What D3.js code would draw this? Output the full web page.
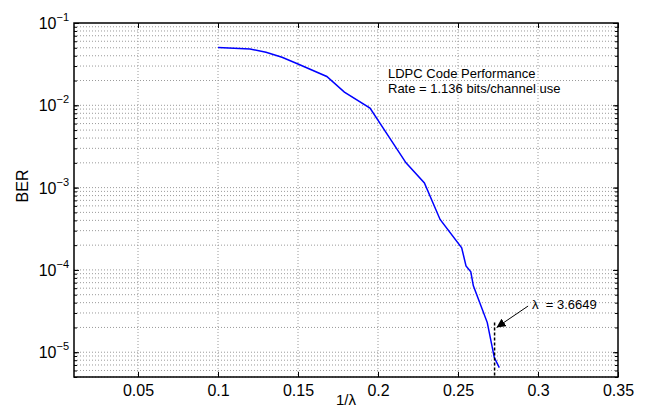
<!DOCTYPE html>
<html>
<head>
<meta charset="utf-8">
<script src="https://cdn.jsdelivr.net/npm/d3@7"></script>
<style>
  body { margin: 0; background: #fff; }
  svg { font-family: "Liberation Sans", Arial, Helvetica, sans-serif; }
  .grid line { stroke: #9a9a9a; stroke-width: 1; stroke-dasharray: 1,2; }
</style>
</head>
<body>
<div id="chart"></div>
<script>
// LDPC code performance - BER vs 1/lambda

// Curve values
var invLambda = [0.100, 0.120, 0.130, 0.140, 0.150, 0.168, 0.179, 0.195, 0.2175, 0.229,
                 0.2388, 0.2523, 0.2550, 0.2580, 0.2596, 0.2683, 0.2727, 0.2758];
var berValues = [0.0505, 0.0484, 0.0441, 0.0384, 0.0318, 0.0224, 0.0145, 0.00925, 0.0020, 0.00114,
                 4.1e-4, 1.86e-4, 1.12e-4, 9.5e-5, 6.4e-5, 2.29e-5, 8.6e-6, 6.5e-6];

// Axis ticks
var xTicks = [0.05, 0.1, 0.15, 0.2, 0.25, 0.3, 0.35];
var xTickLabels = ["0.05", "0.1", "0.15", "0.2", "0.25", "0.3", "0.35"];
var yDecades = [-5, -4, -3, -2, -1];

// Annotation values
var lambdaValue = 3.6649;
var titleLines = ["LDPC Code Performance", "Rate = 1.136 bits/channel use"];

var svgWidth = 646;
var svgHeight = 417;
var margin = { top: 23, right: 28, bottom: 40, left: 74 };
var width = svgWidth - margin.left - margin.right;
var height = svgHeight - margin.top - margin.bottom;

var svg = d3.select("#chart")
    .append("svg")
    .attr("width", svgWidth)
    .attr("height", svgHeight);

var chartGroup = svg.append("g")
    .attr("transform", `translate(${margin.left}, ${margin.top})`);

// Scales
var xScale = d3.scaleLinear()
    .domain([0.01, 0.35])
    .range([0, width]);

var yScale = d3.scaleLog()
    .domain([5e-6, 0.1])
    .range([height, 0]);

// all log ticks (1..9 per decade) inside the domain
var yMinor = [];
for (var k = -6; k <= -1; k++) {
    for (var m = 1; m <= 9; m++) {
        var v = m * Math.pow(10, k);
        if (v >= 5e-6 * 0.999 && v <= 0.1 * 1.001) yMinor.push(v);
    }
}
var yMajor = yDecades.map(d => Math.pow(10, d));

// Grid lines
var grid = chartGroup.append("g").attr("class", "grid");
grid.selectAll(".gx")
    .data(xTicks.filter(d => d < 0.35))
    .enter()
    .append("line")
    .attr("x1", d => xScale(d))
    .attr("x2", d => xScale(d))
    .attr("y1", 0)
    .attr("y2", height);
grid.selectAll(".gy")
    .data(yMinor.filter(d => d < 0.1 * 0.999))
    .enter()
    .append("line")
    .attr("x1", 0)
    .attr("x2", width)
    .attr("y1", d => yScale(d))
    .attr("y2", d => yScale(d));

// Axes (ticks pointing inward)
var bottomAxis = d3.axisBottom(xScale)
    .tickValues(xTicks)
    .tickFormat((d, i) => xTickLabels[i])
    .tickSizeInner(-5)
    .tickSizeOuter(0)
    .tickPadding(8);

var topAxis = d3.axisTop(xScale)
    .tickValues(xTicks)
    .tickFormat("")
    .tickSizeInner(-5)
    .tickSizeOuter(0);

var leftMinor = d3.axisLeft(yScale).tickValues(yMinor).tickFormat("").tickSizeInner(-3).tickSizeOuter(0);
var rightMinor = d3.axisRight(yScale).tickValues(yMinor).tickFormat("").tickSizeInner(-3).tickSizeOuter(0);
var leftMajor = d3.axisLeft(yScale).tickValues(yMajor).tickFormat("").tickSizeInner(-5).tickSizeOuter(0);
var rightMajor = d3.axisRight(yScale).tickValues(yMajor).tickFormat("").tickSizeInner(-5).tickSizeOuter(0);

var xAxisG = chartGroup.append("g")
    .attr("transform", `translate(0, ${height})`)
    .call(bottomAxis);
xAxisG.selectAll("text")
    .style("font-size", "16px")
    .attr("fill", "#000");

chartGroup.append("g").call(topAxis);
chartGroup.append("g").call(leftMinor);
chartGroup.append("g").call(leftMajor);
chartGroup.append("g").attr("transform", `translate(${width}, 0)`).call(rightMinor);
chartGroup.append("g").attr("transform", `translate(${width}, 0)`).call(rightMajor);

chartGroup.selectAll(".domain").remove();
chartGroup.selectAll(".tick line").attr("stroke", "#000").attr("stroke-width", 1);

// Box
chartGroup.append("rect")
    .attr("x", 0)
    .attr("y", 0)
    .attr("width", width)
    .attr("height", height)
    .attr("fill", "none")
    .attr("stroke", "#000")
    .attr("stroke-width", 1.5);

// Y tick labels as 10^k
var yLabels = chartGroup.selectAll(".ylab")
    .data(yDecades)
    .enter()
    .append("text")
    .attr("x", -5)
    .attr("y", d => yScale(Math.pow(10, d)) + 6)
    .attr("text-anchor", "end")
    .attr("fill", "#000");
yLabels.append("tspan")
    .style("font-size", "16px")
    .text("10");
yLabels.append("tspan")
    .attr("dy", -8)
    .style("font-size", "11px")
    .text(d => "\u2212" + Math.abs(d));

// Curve
var line = d3.line()
    .x(d => xScale(d[0]))
    .y(d => yScale(d[1]));

chartGroup.append("path")
    .datum(d3.zip(invLambda, berValues))
    .attr("d", line)
    .attr("fill", "none")
    .attr("stroke", "#0000ff")
    .attr("stroke-width", 1.5);

// Threshold marker at 1/lambda
var xThr = 1 / lambdaValue;
chartGroup.append("line")
    .attr("x1", xScale(xThr))
    .attr("x2", xScale(xThr))
    .attr("y1", yScale(2.3e-5))
    .attr("y2", height)
    .attr("stroke", "#000")
    .attr("stroke-width", 1.5)
    .attr("stroke-dasharray", "3,2");

// Arrow
svg.append("defs").append("marker")
    .attr("id", "arrow")
    .attr("viewBox", "0 0 10 10")
    .attr("refX", 10)
    .attr("refY", 5)
    .attr("markerWidth", 9)
    .attr("markerHeight", 9)
    .attr("markerUnits", "userSpaceOnUse")
    .attr("orient", "auto")
    .append("path")
    .attr("d", "M0,0 L10,5 L0,10 z")
    .attr("fill", "#000");

chartGroup.append("line")
    .attr("x1", xScale(0.2938))
    .attr("y1", yScale(3.64e-5))
    .attr("x2", xScale(xThr) + 2)
    .attr("y2", yScale(2.0e-5))
    .attr("stroke", "#000")
    .attr("stroke-width", 1)
    .attr("marker-end", "url(#arrow)");

chartGroup.append("text")
    .attr("x", xScale(0.2938) + 4)
    .attr("y", yScale(3.64e-5) + 3)
    .attr("fill", "#000")
    .style("font-size", "13px")
    .style("white-space", "pre")
    .text("\u03bb  = " + lambdaValue);

// Legend-like text
chartGroup.selectAll(".note")
    .data(titleLines)
    .enter()
    .append("text")
    .attr("x", 388 - margin.left)
    .attr("y", (d, i) => 78 - margin.top + i * 15)
    .attr("fill", "#000")
    .style("font-size", "13px")
    .text(d => d);

// Axis labels
svg.append("text")
    .attr("transform", "rotate(-90)")
    .attr("x", -186)
    .attr("y", 28)
    .attr("text-anchor", "middle")
    .style("font-size", "16px")
    .text("BER");

svg.append("text")
    .attr("x", margin.left + width / 2)
    .attr("y", 405)
    .attr("text-anchor", "middle")
    .style("font-size", "15px")
    .text("1/\u03bb");
</script>
</body>
</html>
